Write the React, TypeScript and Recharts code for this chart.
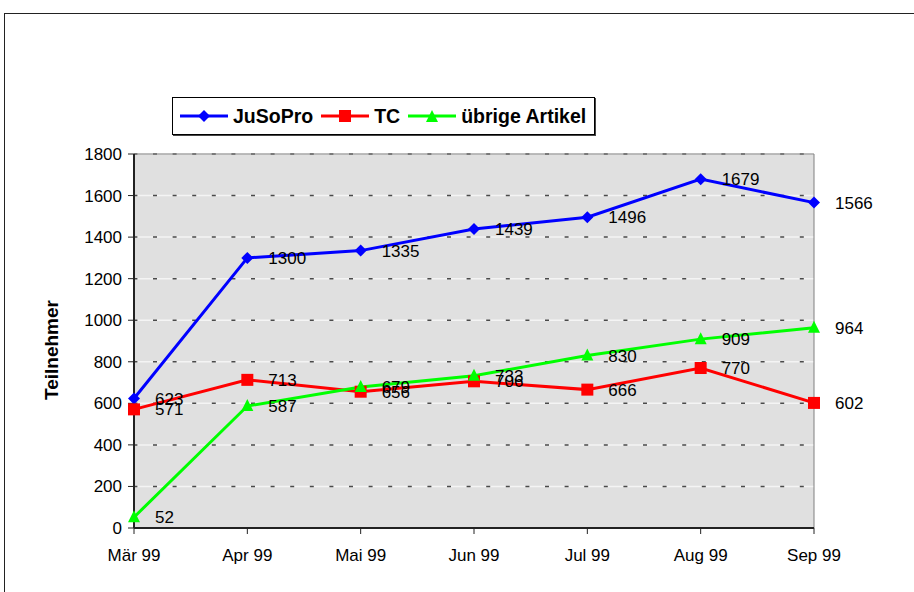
import { LineChart, Line, XAxis, YAxis, CartesianGrid, Legend, LabelList, ReferenceArea } from "recharts";

const months = ["Mär 99", "Apr 99", "Mai 99", "Jun 99", "Jul 99", "Aug 99", "Sep 99"];
const jusopro = [623, 1300, 1335, 1439, 1496, 1679, 1566];
const tc = [571, 713, 656, 706, 666, 770, 602];
const uebrige = [52, 587, 679, 733, 830, 909, 964];
const yTicks = [0, 200, 400, 600, 800, 1000, 1200, 1400, 1600, 1800];

const data = months.map((m, i) => ({
  month: m,
  jusopro: jusopro[i],
  tc: tc[i],
  uebrige: uebrige[i],
}));

const FONT = "'Liberation Sans', Arial, sans-serif";

// Marker-Formen wie im Excel-Original
const Diamond = (props: any) => {
  const { cx, cy, fill } = props;
  if (cx == null || cy == null) return null;
  return <polygon points={`${cx},${cy - 6} ${cx + 6},${cy} ${cx},${cy + 6} ${cx - 6},${cy}`} fill={fill} />;
};

const Square = (props: any) => {
  const { cx, cy, fill } = props;
  if (cx == null || cy == null) return null;
  return <rect x={cx - 6} y={cy - 6} width={12} height={12} fill={fill} />;
};

const Triangle = (props: any) => {
  const { cx, cy, fill } = props;
  if (cx == null || cy == null) return null;
  return <polygon points={`${cx},${cy - 7} ${cx + 6},${cy + 5} ${cx - 6},${cy + 5}`} fill={fill} />;
};

const legendItems = [
  { name: "JuSoPro", color: "#0000ff", shape: "diamond" },
  { name: "TC", color: "#ff0000", shape: "square" },
  { name: "übrige Artikel", color: "#00ff00", shape: "triangle" },
];

function LegendBox() {
  return (
    <div
      style={{
        display: "flex",
        alignItems: "center",
        background: "#fff",
        border: "1px solid #000",
        boxShadow: "1px 1px 0 #444",
        height: 36,
        padding: "0 8px 0 7px",
        fontFamily: FONT,
        fontWeight: "bold",
        fontSize: 19.5,
        color: "#000",
        whiteSpace: "nowrap",
      }}
    >
      {legendItems.map((it, i) => (
        <div key={it.name} style={{ display: "flex", alignItems: "center", marginLeft: i === 0 ? 0 : 8 }}>
          <svg width={48} height={14}>
            <line x1={0} y1={7} x2={48} y2={7} stroke={it.color} strokeWidth={3} />
            {it.shape === "diamond" && <polygon points="24,1 30,7 24,13 18,7" fill={it.color} />}
            {it.shape === "square" && <rect x={18} y={1} width={12} height={12} fill={it.color} />}
            {it.shape === "triangle" && <polygon points="24,1 30,13 18,13" fill={it.color} />}
          </svg>
          <span style={{ marginLeft: 5 }}>{it.name}</span>
        </div>
      ))}
    </div>
  );
}

const YTitle = (props: any) => {
  const { viewBox } = props;
  const x = viewBox.x - 6;
  const y = viewBox.y + viewBox.height / 2 + 9;
  return (
    <text
      x={x}
      y={y}
      transform={`rotate(-90 ${x} ${y})`}
      textAnchor="middle"
      fontFamily={FONT}
      fontWeight="bold"
      fontSize={19}
      fill="#000"
    >
      Teilnehmer
    </text>
  );
};

export default function App() {
  const tickStyle = { fontFamily: FONT, fontSize: 17, fill: "#000" };
  const labelStyle = { fontFamily: FONT, fontSize: 17, fill: "#000" };

  return (
    <div style={{ position: "absolute", left: 0, top: 0, width: 914, height: 592, overflow: "hidden", background: "#fff" }}>
      <style>{"body{overflow:hidden}"}</style>
      <div style={{ position: "absolute", left: 0, top: 0 }}>
        <LineChart width={914} height={592} data={data} margin={{ top: 154, right: 100, bottom: 34, left: 64 }}>
          <CartesianGrid vertical={false} stroke="#f4f4f4" fill="#e0e0e0" strokeWidth={1.5} />
          <CartesianGrid vertical={false} stroke="#4a4a4a" strokeWidth={1.5} strokeDasharray="4 15.6" strokeDashoffset={-19} />
          <ReferenceArea x1="Mär 99" x2="Sep 99" y1={0} y2={1800} fill="none" stroke="#808080" strokeWidth={1} ifOverflow="visible" />
          <XAxis
            dataKey="month"
            height={30}
            tick={tickStyle}
            tickSize={6}
            tickMargin={15}
            stroke="#000"
            axisLine={{ stroke: "#222", strokeWidth: 2 }}
            tickLine={{ stroke: "#222" }}
            interval={0}
          />
          <YAxis
            width={70}
            domain={[0, 1800]}
            ticks={yTicks}
            tick={tickStyle}
            tickSize={6}
            tickMargin={6}
            axisLine={{ stroke: "#222", strokeWidth: 2 }}
            tickLine={{ stroke: "#222" }}
            label={<YTitle />}
            interval={0}
          />
          <Legend
            layout="horizontal"
            verticalAlign="middle"
            align="center"
            content={() => <LegendBox />}
            wrapperStyle={{ position: "absolute", left: 172, top: 97, width: "auto" }}
          />
          <Line
            type="linear"
            dataKey="jusopro"
            name="JuSoPro"
            stroke="#0000ff"
            strokeWidth={3}
            dot={<Diamond fill="#0000ff" />}
            activeDot={false}
            isAnimationActive={false}
          >
            <LabelList dataKey="jusopro" position="right" offset={21} style={labelStyle} />
          </Line>
          <Line
            type="linear"
            dataKey="tc"
            name="TC"
            stroke="#ff0000"
            strokeWidth={3}
            dot={<Square fill="#ff0000" />}
            activeDot={false}
            isAnimationActive={false}
          >
            <LabelList dataKey="tc" position="right" offset={21} style={labelStyle} />
          </Line>
          <Line
            type="linear"
            dataKey="uebrige"
            name="übrige Artikel"
            stroke="#00ff00"
            strokeWidth={3}
            dot={<Triangle fill="#00ff00" />}
            activeDot={false}
            isAnimationActive={false}
          >
            <LabelList dataKey="uebrige" position="right" offset={21} style={labelStyle} />
          </Line>
        </LineChart>
      </div>
      {/* äußerer Rahmen, rechts und unten abgeschnitten */}
      <svg width={914} height={592} style={{ position: "absolute", left: 0, top: 0, pointerEvents: "none" }}>
        <rect x={4.5} y={13.5} width={1000} height={1000} fill="none" stroke="#222" strokeWidth={1} />
      </svg>
    </div>
  );
}
